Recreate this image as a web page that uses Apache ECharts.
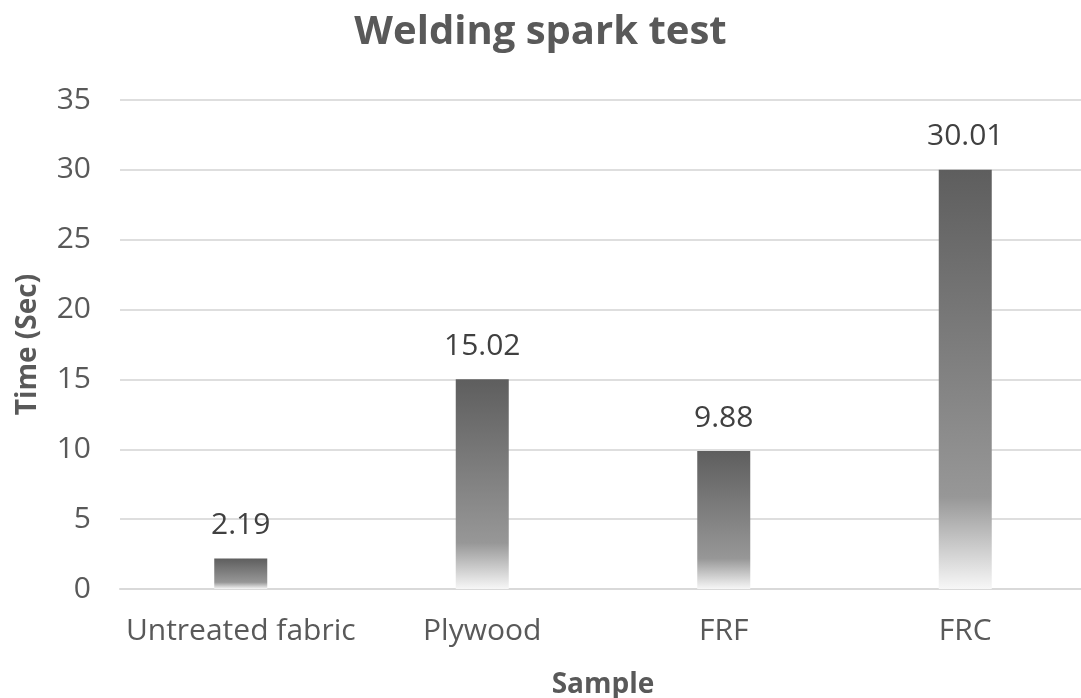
<!DOCTYPE html>
<html>
<head>
<meta charset="utf-8">
<script src="https://cdn.jsdelivr.net/npm/echarts@6/dist/echarts.min.js"></script>
<style>
  html, body { margin: 0; padding: 0; background: #fff; }
  #chart { width: 1081px; height: 698px; }
</style>
</head>
<body>
<div id="chart"></div>
<script>
// 数据
const categories = ["Untreated fabric", "Plywood", "FRF", "FRC"];
const times = [2.19, 15.02, 9.88, 30.01];
const yTicks = { min: 0, max: 35, interval: 5 };

const chart = echarts.init(document.getElementById("chart"));
const font = "'Open Sans', 'Noto Sans', sans-serif";

const barFill = new echarts.graphic.LinearGradient(0, 0, 0, 1, [
  { offset: 0, color: "#5e5e5e" },
  { offset: 0.78, color: "#979797" },
  { offset: 1, color: "#f7f7f7" },
]);

chart.setOption({
  animation: false,
  title: {
    text: "Welding spark test",
    left: "center",
    top: 8,
    textStyle: { fontFamily: font, fontSize: 40, fontWeight: "bold", color: "#595959" },
  },
  grid: { left: 120, right: -5, top: 100, bottom: 109, outerBoundsMode: "none" },
  xAxis: {
    type: "category",
    data: categories,
    name: "Sample",
    nameLocation: "middle",
    nameGap: 82,
    nameTextStyle: { fontFamily: font, fontSize: 28, fontWeight: "bold", color: "#595959" },
    axisLine: { lineStyle: { color: "#d9d9d9", width: 2 } },
    axisTick: { show: false },
    axisLabel: { interval: 0, fontFamily: font, fontSize: 30, color: "#595959", margin: 27 },
  },
  yAxis: {
    type: "value",
    min: yTicks.min,
    max: yTicks.max,
    interval: yTicks.interval,
    name: "Time (Sec)",
    nameLocation: "middle",
    nameGap: 78,
    nameTextStyle: { fontFamily: font, fontSize: 28, fontWeight: "bold", color: "#595959" },
    axisLine: { show: false },
    axisTick: { show: false },
    axisLabel: { fontFamily: font, fontSize: 30, color: "#595959", margin: 29 },
    splitLine: { lineStyle: { color: "#dedede", width: 2 } },
  },
  series: [
    {
      type: "bar",
      data: times,
      barWidth: 53,
      itemStyle: { color: barFill },
      label: {
        show: true,
        position: "top",
        distance: 18,
        fontFamily: font,
        fontSize: 30,
        color: "#404040",
        formatter: (p) => p.value.toFixed(2),
      },
    },
  ],
});
</script>
</body>
</html>
